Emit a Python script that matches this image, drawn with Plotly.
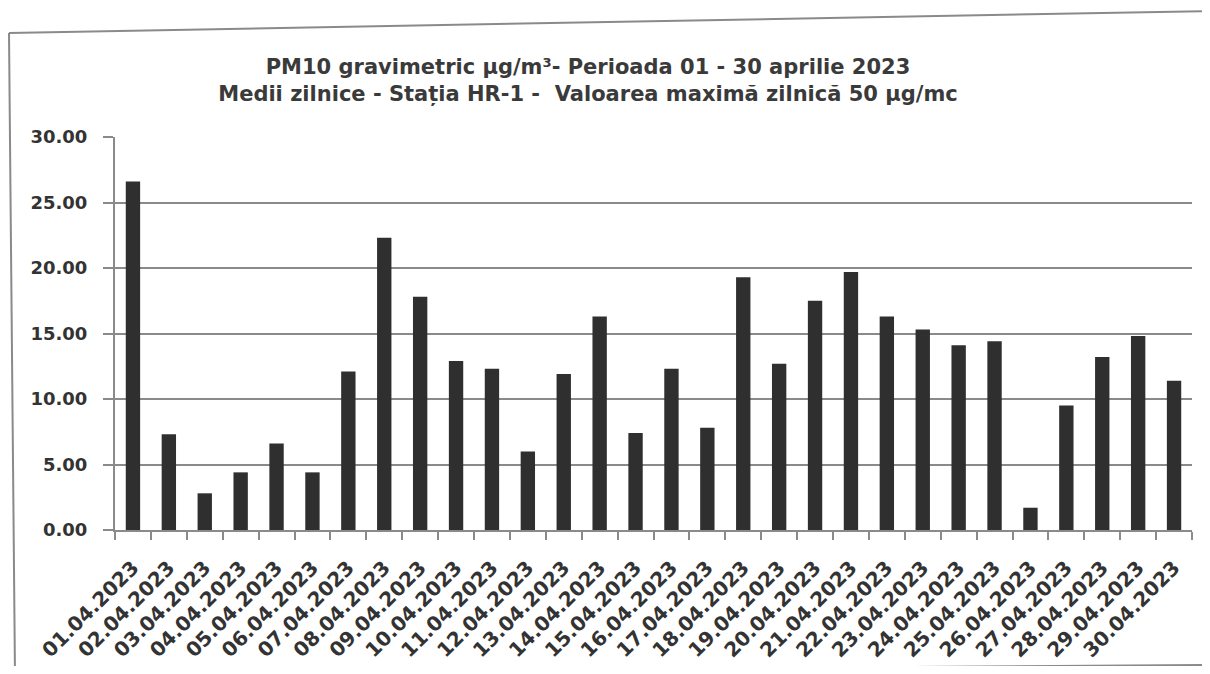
import plotly.graph_objects as go

dates = ["01.04.2023", "02.04.2023", "03.04.2023", "04.04.2023", "05.04.2023",
         "06.04.2023", "07.04.2023", "08.04.2023", "09.04.2023", "10.04.2023",
         "11.04.2023", "12.04.2023", "13.04.2023", "14.04.2023", "15.04.2023",
         "16.04.2023", "17.04.2023", "18.04.2023", "19.04.2023", "20.04.2023",
         "21.04.2023", "22.04.2023", "23.04.2023", "24.04.2023", "25.04.2023",
         "26.04.2023", "27.04.2023", "28.04.2023", "29.04.2023", "30.04.2023"]
pm10 = [26.6, 7.3, 2.8, 4.4, 6.6, 4.4, 12.1, 22.3, 17.8, 12.9,
        12.3, 6.0, 11.9, 16.3, 7.4, 12.3, 7.8, 19.3, 12.7, 17.5,
        19.7, 16.3, 15.3, 14.1, 14.4, 1.7, 9.5, 13.2, 14.8, 11.4]
y_ticks = [0, 5, 10, 15, 20, 25, 30]

# the page body adds an 8px offset; figure sized so it fits the window
OFF = 8
W, H = 1210 - 2 * OFF, 674 - 2 * OFF
L, R, T, B = 115 - OFF, 10, 137 - OFF, 674 - 530 - OFF
PW, PH = W - L - R, H - T - B


def px(x):
    return (x - OFF - L) / PW


def py(y):
    return (H - B - (y - OFF)) / PH


fig = go.Figure(go.Bar(x=dates, y=pm10, marker=dict(color="#2f2f2f", line=dict(width=0))))

grey = "#8a8a8a"
frame = dict(type="line", xref="paper", yref="paper", line=dict(color=grey, width=2))
fig.update_layout(
    width=W, height=H,
    margin=dict(l=L, r=R, t=T, b=B),
    paper_bgcolor="white", plot_bgcolor="white",
    bargap=0.6,
    showlegend=False,
    title=dict(
        text="PM10 gravimetric µg/m³- Perioada 01 - 30 aprilie 2023<br>"
             "Medii zilnice - Stația HR-1 -  Valoarea maximă zilnică 50 µg/mc",
        x=(588 - OFF) / W, xanchor="center", y=1 - (74 - OFF) / H, yanchor="middle",
        font=dict(family="DejaVu Sans", size=21, color="#3a3a3a", weight="bold"),
    ),
    xaxis=dict(
        type="category", tickangle=-45, ticks="outside", tickson="boundaries",
        ticklen=8, tickwidth=2, tickcolor=grey, showline=True, linecolor=grey, linewidth=2,
        showgrid=False, ticklabelstandoff=16, automargin=False,
        tickfont=dict(family="DejaVu Sans", size=20, color="#333333", weight="bold"),
    ),
    yaxis=dict(
        range=[0, 30], tickvals=y_ticks, tickformat=".2f", ticks="outside",
        ticklen=10, tickwidth=2, tickcolor=grey, showline=True, linecolor=grey, linewidth=2,
        showgrid=True, gridcolor=grey, gridwidth=2, zeroline=False, ticklabelstandoff=12,
        automargin=False,
        tickfont=dict(family="DejaVu Sans", size=18, color="#333333", weight="bold"),
    ),
    shapes=[
        dict(frame, x0=px(9), y0=py(33), x1=px(1212), y1=py(11)),
        dict(frame, x0=px(9), y0=py(33), x1=px(15), y1=py(676)),
        dict(frame, x0=px(160), y0=py(672), x1=px(1212), y1=py(665)),
    ],
)

fig.write_html("out.html")
